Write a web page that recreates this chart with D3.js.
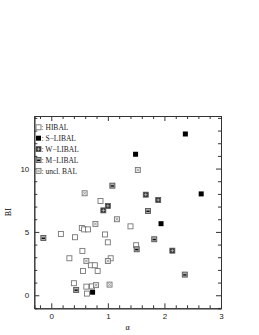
<!DOCTYPE html>
<html>
<head>
<meta charset="utf-8">
<script src="https://cdn.jsdelivr.net/npm/d3@7"></script>
<style>
  body { margin: 0; background: #fff; }
  .tick text { font-family: "Liberation Sans", sans-serif; font-size: 8px; fill: #222; }
  .domain, .tick line { stroke: #333; }
</style>
</head>
<body>
<script>
//symbol classes and their legend text
var classes = ["HIBAL", "S-LIBAL", "W-LIBAL", "M-LIBAL", "uncl"];
var legendLabels = [": HIBAL", ": S\u2212LIBAL", ": W\u2212LIBAL", ": M\u2212LIBAL", ": uncl. BAL"];

//alpha and BI values, one list per class
var hibalAlpha = [0.87, 0.54, 0.58, 0.65, 0.17, 0.42, 0.95, 1.00, 0.55, 0.32, 0.70, 0.77, 1.05, 0.56, 0.82, 0.40, 0.62, 0.72, 1.40, 1.50, 0.63];
var hibalBI    = [7.44, 5.31, 5.20, 5.20, 4.84, 4.58, 4.80, 4.18, 3.50, 2.92, 2.37, 2.37, 2.92, 1.92, 1.92, 0.95, 0.68, 0.70, 5.44, 3.95, 0.13];
var slibalAlpha = [2.37, 1.49, 2.65, 1.94, 0.73];
var slibalBI    = [12.73, 11.13, 8.00, 5.65, 0.24];
var wlibalAlpha = [0.92, 1.00, 1.67, 1.89, 2.14];
var wlibalBI    = [6.70, 7.05, 7.94, 7.52, 3.52];
var mlibalAlpha = [-0.14, 0.44, 1.08, 1.71, 1.51, 2.36, 1.82];
var mlibalBI    = [4.52, 0.42, 8.65, 6.65, 3.63, 1.63, 4.42];
var unclAlpha = [0.59, 1.16, 0.78, 0.62, 1.00, 1.03, 1.53, 0.79];
var unclBI    = [8.05, 6.00, 5.63, 2.71, 2.70, 0.84, 9.89, 0.80];

//tick values
var xMajor = [0, 1, 2, 3];
var yMajor = [0, 5, 10];

var data = [];
function addClass(cls, xs, ys) {
  xs.forEach(function(v, i) { data.push({cls: cls, a: v, bi: ys[i]}); });
}
addClass("HIBAL", hibalAlpha, hibalBI);
addClass("S-LIBAL", slibalAlpha, slibalBI);
addClass("W-LIBAL", wlibalAlpha, wlibalBI);
addClass("M-LIBAL", mlibalAlpha, mlibalBI);
addClass("uncl", unclAlpha, unclBI);

var W = 259, H = 335;
var plotLeft = 34.3, plotRight = 221, plotTop = 116, plotBottom = 308.3;

var x = d3.scaleLinear().domain([-0.3, 3]).range([plotLeft, plotRight]);
var y = d3.scaleLinear().domain([-1.03, 14.15]).range([plotBottom, plotTop]);

var xMinor = d3.range(-0.2, 3.01, 0.2).filter(function(v) { return Math.abs(v - Math.round(v)) > 0.01; });
var yMinor = d3.range(-1, 14.5, 1).filter(function(v) { return v % 5 !== 0; });

var svg = d3.select("body").append("svg")
  .attr("width", W)
  .attr("height", H);

//minor ticks, inward on all four sides
svg.append("g").attr("transform", "translate(0," + plotBottom + ")")
  .call(d3.axisBottom(x).tickValues(xMinor).tickSize(-3).tickFormat(""));
svg.append("g").attr("transform", "translate(0," + plotTop + ")")
  .call(d3.axisTop(x).tickValues(xMinor).tickSize(-3).tickFormat(""));
svg.append("g").attr("transform", "translate(" + plotLeft + ",0)")
  .call(d3.axisLeft(y).tickValues(yMinor).tickSize(-3).tickFormat(""));
svg.append("g").attr("transform", "translate(" + plotRight + ",0)")
  .call(d3.axisRight(y).tickValues(yMinor).tickSize(-3).tickFormat(""));

//major ticks with labels on bottom and left
svg.append("g").attr("transform", "translate(0," + plotBottom + ")")
  .call(d3.axisBottom(x).tickValues(xMajor).tickSize(-5).tickPadding(5).tickSizeOuter(0).tickFormat(d3.format("d")));
svg.append("g").attr("transform", "translate(0," + plotTop + ")")
  .call(d3.axisTop(x).tickValues(xMajor).tickSize(-5).tickFormat("").tickSizeOuter(0));
svg.append("g").attr("transform", "translate(" + plotLeft + ",0)")
  .call(d3.axisLeft(y).tickValues(yMajor).tickSize(-5).tickPadding(5).tickSizeOuter(0).tickFormat(d3.format("d")));
svg.append("g").attr("transform", "translate(" + plotRight + ",0)")
  .call(d3.axisRight(y).tickValues(yMajor).tickSize(-5).tickFormat("").tickSizeOuter(0));

svg.selectAll(".domain").attr("stroke-width", 1);
svg.selectAll(".tick line").attr("stroke-width", 1);

//draw one marker of a class centred at (cx, cy)
var s = 5;
function marker(g, cls, cx, cy) {
  var h = s / 2;
  if (cls === "HIBAL") {
    g.append("rect").attr("x", cx - h).attr("y", cy - h).attr("width", s).attr("height", s)
      .attr("fill", "#fff").attr("stroke", "#777").attr("stroke-width", 0.9);
  } else if (cls === "S-LIBAL") {
    g.append("rect").attr("x", cx - h).attr("y", cy - h).attr("width", s).attr("height", s)
      .attr("fill", "#000");
  } else if (cls === "W-LIBAL") {
    g.append("rect").attr("x", cx - h).attr("y", cy - h).attr("width", s).attr("height", s)
      .attr("fill", "#333").attr("stroke", "#555").attr("stroke-width", 0.8);
    g.append("path").attr("d", "M" + (cx - 1.6) + "," + cy + "h3.2M" + cx + "," + (cy - 1.6) + "v3.2")
      .attr("stroke", "#ccc").attr("stroke-width", 0.7);
  } else if (cls === "M-LIBAL") {
    g.append("rect").attr("x", cx - h).attr("y", cy - h).attr("width", s).attr("height", s)
      .attr("fill", "#aaa").attr("stroke", "#555").attr("stroke-width", 0.9);
    g.append("path").attr("d", "M" + (cx - 1.6) + "," + (cy + 0.3) + "h3.2")
      .attr("stroke", "#111").attr("stroke-width", 1.4);
  } else {
    g.append("rect").attr("x", cx - h).attr("y", cy - h).attr("width", s).attr("height", s)
      .attr("fill", "#eee").attr("stroke", "#777").attr("stroke-width", 0.9);
    g.append("path").attr("d", "M" + (cx - 1.4) + "," + (cy - 1.4) + "l2.8,2.8M" + (cx - 1.4) + "," + (cy + 1.4) + "l2.8,-2.8")
      .attr("stroke", "#888").attr("stroke-width", 0.7);
  }
}

var pts = svg.append("g");
data.forEach(function(d) { marker(pts, d.cls, x(d.a), y(d.bi)); });

//legend
var legend = svg.append("g");
classes.forEach(function(c, i) {
  var ly = 127.3 + i * 10.9;
  marker(legend, c, 38.5, ly);
  legend.append("text")
    .attr("x", 41.5)
    .attr("y", ly + 2.6)
    .style("font-family", "'Liberation Serif', serif")
    .style("font-size", "7.5px")
    .style("fill", "#222")
    .text(legendLabels[i]);
});

//axis labels
svg.append("text")
  .attr("x", (plotLeft + plotRight) / 2)
  .attr("y", 330)
  .style("text-anchor", "middle")
  .style("font-family", "'Liberation Serif', serif")
  .style("font-size", "8px")
  .text("\u03b1");

svg.append("text")
  .attr("transform", "translate(11," + ((plotTop + plotBottom) / 2) + ") rotate(-90)")
  .style("text-anchor", "middle")
  .style("font-family", "'Liberation Serif', serif")
  .style("font-size", "8px")
  .text("BI");
</script>
</body>
</html>
